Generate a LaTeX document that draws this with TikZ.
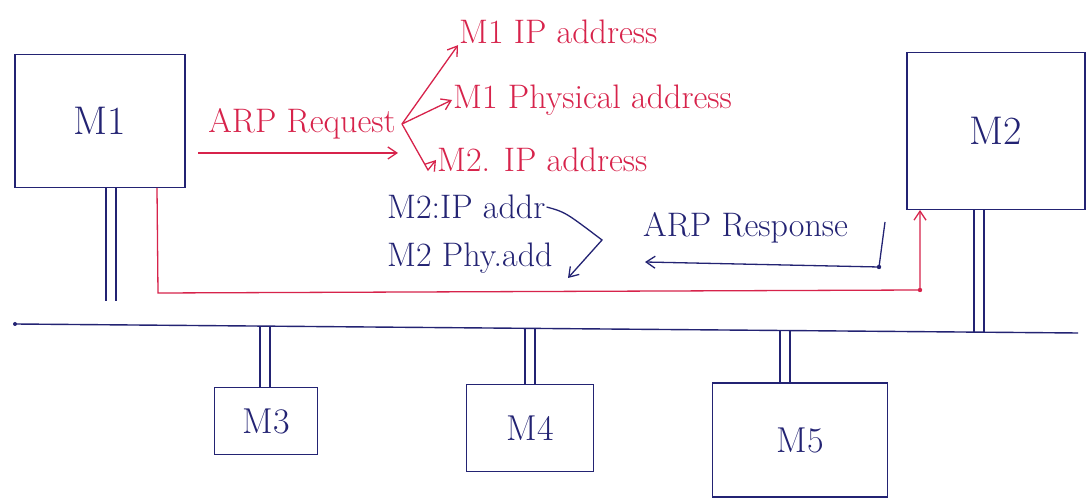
\documentclass[tikz,border=0pt]{standalone}
\usetikzlibrary{arrows.meta}
\definecolor{ink}{RGB}{35,35,115}
\definecolor{redink}{RGB}{215,35,75}
\begin{document}
\begin{tikzpicture}[x=1pt,y=-1pt,
  box/.style={draw=ink, line width=1.4pt, inner sep=0pt, text=ink, font=\fontsize{40}{42}\selectfont},
  sbox/.style={box, font=\fontsize{36}{38}\selectfont},
  wire/.style={draw=ink, line width=1.4pt},
  dbl/.style={draw=ink, line width=1.4pt},
  rlab/.style={text=redink, font=\fontsize{34}{36}\selectfont, inner sep=1pt},
  blab/.style={text=ink, font=\fontsize{34}{36}\selectfont, inner sep=1pt},
  rarrow/.style={draw=redink, line width=1.3pt, -{Straight Barb[length=9pt,width=12pt]}},
  barrow/.style={draw=ink, line width=1.3pt, -{Straight Barb[length=9pt,width=12pt]}}
]
\useasboundingbox[fill=white] (0,0) rectangle (1088,502);

% machines
\node[box, minimum width=170pt, minimum height=133pt] (M1) at (100,121) {M1};
\node[box, minimum width=178pt, minimum height=157pt] (M2) at (996,131) {M2};
\node[sbox, minimum width=103pt, minimum height=67pt] (M3) at (266,421) {M3};
\node[sbox, minimum width=127pt, minimum height=87pt] (M4) at (530,428) {M4};
\node[sbox, minimum width=175pt, minimum height=114pt] (M5) at (800,440) {M5};

% bus
\coordinate (busL) at (15,324);
\coordinate (busR) at (1078,333);
\draw[wire] (busL) -- (busR);
\fill[ink] (busL) circle (2pt);

% taps on bus
\coordinate (b1) at (111,325);
\coordinate (b3) at (265,326);
\coordinate (b4) at (530,328.4);
\coordinate (b5) at (785,330.5);
\coordinate (b2) at (979,332.2);

\foreach \s in {-5,5}{
  \draw[dbl, shorten >=24pt] ([xshift=\s pt]b1 |- M1.south) -- ([xshift=\s pt]b1);
  \draw[dbl] ([xshift=\s pt]b3 |- M3.north) -- ([xshift=\s pt]b3);
  \draw[dbl] ([xshift=\s pt]b4 |- M4.north) -- ([xshift=\s pt]b4);
  \draw[dbl] ([xshift=\s pt]b5 |- M5.north) -- ([xshift=\s pt]b5);
  \draw[dbl] ([xshift=\s pt]b2 |- M2.south) -- ([xshift=\s pt]b2);
}

% red ARP request path
\coordinate (r0) at (157,188);
\coordinate (r1) at (158,293);
\coordinate (r2) at (920,290);
\coordinate (r3) at (920,210);
\draw[rarrow] (r0) -- (r1) -- (r2) -- (r3);
\fill[redink] (r2) circle (2.2pt);

% ARP request label and arrow
\node[rlab] (req) at (302,124) {ARP Request};
\coordinate (reqS) at (198,153);
\coordinate (reqE) at (398,153);
\draw[rarrow] (reqS) -- (reqE);

% request contents
\coordinate (br) at (402,124);
\node[rlab, anchor=west] (m1ip) at (458,32) {M1 IP address};
\node[rlab, anchor=west] (m1ph) at (452,100) {M1 Physical address};
\node[rlab, anchor=west] (m2ip) at (436,160) {M2. IP address};
\draw[rarrow] (br) -- (m1ip.south west);
\draw[rarrow] (br) -- (m1ph.west);
\draw[rarrow] (br) -- (428,170) -- (m2ip.west);

% response contents
\node[blab, anchor=west] (r2ip) at (386,207) {M2:IP addr};
\node[blab, anchor=west] (r2ph) at (386,258) {M2 Phy.add};
\coordinate (cv) at (602,240);
\coordinate (cvE) at (568,278);
\draw[barrow] (r2ip.east) .. controls (565,212) .. (cv) -- (cvE);

% ARP response
\node[blab, anchor=west] (resp) at (642,228) {ARP Response};
\coordinate (rs1) at (885,222);
\coordinate (rs2) at (879,267);
\coordinate (rsE) at (645,262);
\draw[barrow] (rs1) -- (rs2) -- (rsE);
\fill[ink] (rs2) circle (2.2pt);
\end{tikzpicture}
\end{document}
